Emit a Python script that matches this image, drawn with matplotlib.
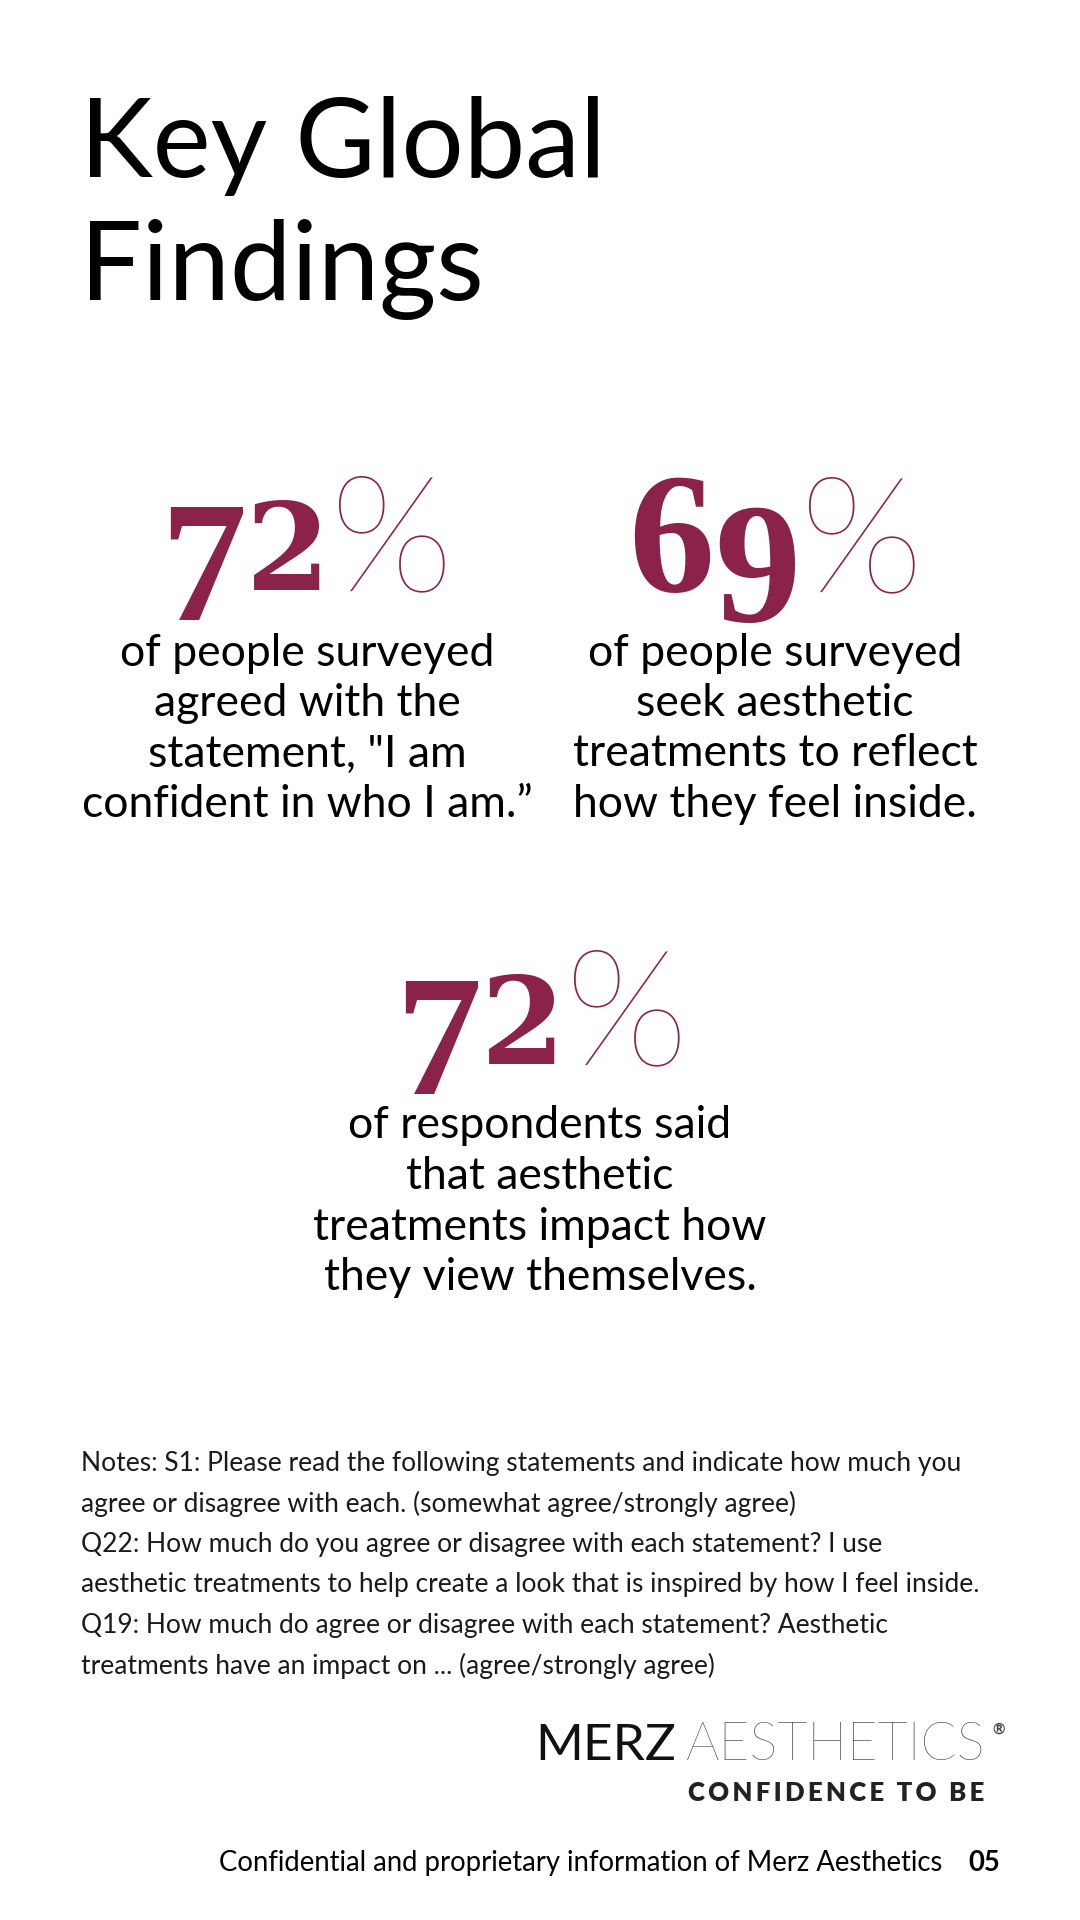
import matplotlib
matplotlib.use("Agg")
import matplotlib.pyplot as plt

# values and texts
title_lines = ["Key Global", "Findings"]
stat_values = ["72", "69", "72"]
stat_captions = [
    ["of people surveyed", "agreed with the", "statement, \"I am", "confident in who I am.\u201d"],
    ["of people surveyed", "seek aesthetic", "treatments to reflect", "how they feel inside."],
    ["of respondents said", "that aesthetic", "treatments impact how", "they view themselves."],
]
notes_lines = [
    "Notes: S1: Please read the following statements and indicate how much you",
    "agree or disagree with each. (somewhat agree/strongly agree)",
    "Q22: How much do you agree or disagree with each statement? I use",
    "aesthetic treatments to help create a look that is inspired by how I feel inside.",
    "Q19: How much do agree or disagree with each statement? Aesthetic",
    "treatments have an impact on ... (agree/strongly agree)",
]
brand_bold = "MERZ"
brand_light = "AESTHETICS"
tagline = "CONFIDENCE TO BE"
footer = "Confidential and proprietary information of Merz Aesthetics"
page_no = "05"

MAROON = "#8a2249"
SANS = ["Lato", "DejaVu Sans"]

fig = plt.figure(figsize=(10.8, 19.2), dpi=100)
ax = fig.add_axes([0, 0, 1, 1])
ax.set_xlim(0, 1080)
ax.set_ylim(1920, 0)
ax.axis("off")
r = fig.canvas.get_renderer()

# title
ax.text(80, 177, title_lines[0], fontsize=79, family=SANS, va="baseline", color="black")
ax.text(80, 300, title_lines[1], fontsize=79, family=SANS, va="baseline", color="black")

# old-style figures faked: small digits sit on the baseline, tall ones
# either rise above the x-height or hang below the baseline
SMALL = ("DejaVu Serif", 87, 0)
RISE = ("Liberation Serif", 124, 0)
HANG = ("Liberation Serif", 124, 30)
digit_style = {"0": SMALL, "1": SMALL, "2": SMALL, "6": RISE, "8": RISE,
               "3": HANG, "4": HANG, "5": HANG, "7": HANG, "9": HANG}


def draw_stat(value, x_center, baseline):
    parts = []
    for d in value:
        fam, size, dy = digit_style[d]
        t = ax.text(0, baseline + dy, d, fontsize=size, family=fam, weight="bold",
                    color=MAROON, va="baseline", ha="left")
        parts.append(t)
    pct = ax.text(0, baseline, "%", fontsize=117, family=SANS, weight="light",
                  color=MAROON, va="baseline", ha="left")
    parts.append(pct)
    widths = [t.get_window_extent(renderer=r).width for t in parts]
    x = x_center - sum(widths) / 2
    for t, w in zip(parts, widths):
        t.set_x(x)
        x += w


stat_pos = [(307, 590), (776, 591), (542, 1064)]
caption_pos = [(307, 653), (775, 653), (540, 1126)]
for v, (cx, by) in zip(stat_values, stat_pos):
    draw_stat(v, cx, by)

for lines, (cx, cy) in zip(stat_captions, caption_pos):
    for i, line in enumerate(lines):
        ax.text(cx, cy + i * 50.5, line, fontsize=32, family=SANS, ha="center",
                va="center", color="black")

# notes
for i, line in enumerate(notes_lines):
    ax.text(81, 1464 + i * 40.3, line, fontsize=19, family=SANS, ha="left",
            va="center", color="#1a1a1a")

# logo
t_light = ax.text(985, 1760, brand_light, fontsize=38, family=SANS, weight="light",
                  ha="right", va="baseline", color="#2b2b2b")
bb = t_light.get_window_extent(renderer=r)
ax.text(985 - bb.width - 9, 1760, brand_bold, fontsize=37, family=SANS, weight="normal",
        ha="right", va="baseline", color="#111111")
ax.text(992, 1730, "\u00ae", fontsize=11, family=SANS, weight="bold", ha="left",
        va="center", color="#444444")
spaced = "\u2009".join(tagline)
ax.text(984, 1801, spaced, fontsize=18.5, family=SANS, weight="heavy", ha="right",
        va="baseline", color="#222222")

# footer
ax.text(942, 1863, footer, fontsize=19.8, family=SANS, ha="right", va="center", color="black")
ax.text(1000, 1863, page_no, fontsize=19.8, family=SANS, weight="bold", ha="right",
        va="center", color="black")

fig.savefig("out.png", dpi=100, facecolor="white")
